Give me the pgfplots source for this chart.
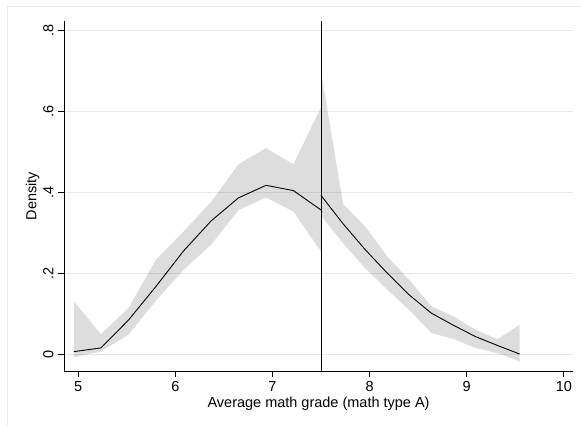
\documentclass[border=0pt]{standalone}
\usepackage{pgfplots}
\pgfplotsset{compat=1.18}
\usepackage{pgfplotstable}
\usepgfplotslibrary{fillbetween}
\usepackage{fontspec}
\setmainfont{Liberation Sans}
\definecolor{gridc}{RGB}{232,232,232}
\definecolor{framec}{RGB}{236,236,236}

\pgfplotstableread{
x     y      lo      hi
4.956 0.006 -0.008  0.130
5.233 0.015  0.006  0.049
5.518 0.084  0.048  0.114
5.800 0.167  0.132  0.233
6.085 0.255  0.208  0.303
6.368 0.329  0.270  0.376
6.650 0.386  0.356  0.469
6.933 0.417  0.387  0.509
7.216 0.404  0.352  0.469
7.500 0.356  0.253  0.610
}\leftside

\pgfplotstableread{
x     y      lo      hi
7.500 0.392  0.342  0.698
7.727 0.322  0.274  0.371
7.955 0.258  0.212  0.315
8.182 0.200  0.159  0.241
8.409 0.146  0.109  0.183
8.636 0.101  0.052  0.118
8.864 0.071  0.037  0.093
9.091 0.043  0.015  0.060
9.318 0.021  0.002  0.037
9.545 0.000 -0.018  0.072
}\rightside

\begin{document}
\fontsize{14.5bp}{17bp}\selectfont
\begin{tikzpicture}
\begin{axis}[
  name=ax,
  scale only axis,
  width=509bp, height=351bp,
  xmin=4.856, xmax=10.093,
  ymin=-0.043, ymax=0.824,
  axis lines=left,
  axis line style={-, black, line width=0.9bp},
  xtick={5,6,7,8,9,10},
  ytick={0,0.2,0.4,0.6,0.8},
  xticklabel={\pgfmathprintnumber[fixed,precision=0,assume math mode=true]{\tick}},
  yticklabel={\pgfmathprintnumber[fixed,precision=1,skip 0.,assume math mode=true]{\tick}},
  tick align=outside,
  major tick length=6bp,
  tick style={black, line width=0.8bp},
  ymajorgrids,
  grid style={gridc, line width=0.9bp},
  xticklabel style={font=\fontsize{14.5bp}{17bp}\selectfont, inner sep=0pt, anchor=base, yshift=-14bp},
  yticklabel style={font=\fontsize{14.5bp}{17bp}\selectfont, inner sep=0pt, anchor=base, xshift=-5bp, rotate=90},
  xlabel={Average math grade (math type A)},
  ylabel={Density},
  xlabel style={font=\fontsize{14.5bp}{17bp}\selectfont, inner sep=0pt, at={([yshift=-36.6bp]axis description cs:0.5,0)}, anchor=base},
  ylabel style={font=\fontsize{14.5bp}{17bp}\selectfont, inner sep=0pt, at={([xshift=-27.8bp]axis description cs:0,0.5)}, anchor=base, rotate=0},
  clip=false,
]
\addplot[name path=lhi, draw=none, forget plot] table[x=x, y=hi]{\leftside};
\addplot[name path=llo, draw=none, forget plot] table[x=x, y=lo]{\leftside};
\addplot[black, fill opacity=0.135, draw=none, forget plot] fill between[of=lhi and llo];
\addplot[name path=rhi, draw=none, forget plot] table[x=x, y=hi]{\rightside};
\addplot[name path=rlo, draw=none, forget plot] table[x=x, y=lo]{\rightside};
\addplot[black, fill opacity=0.135, draw=none, forget plot] fill between[of=rhi and rlo];
\addplot[black, line width=0.9bp] table[x=x, y=y]{\leftside};
\addplot[black, line width=0.9bp] table[x=x, y=y]{\rightside};
\addplot[black, line width=1bp] coordinates {(7.5,-0.043) (7.5,0.824)};
\end{axis}
\draw[framec, line width=0.9bp] ([xshift=-57bp, yshift=-54.3bp]ax.south west) -- ([xshift=-57bp, yshift=365.7bp]ax.south west) -- ([xshift=516.7bp, yshift=365.7bp]ax.south west);
\useasboundingbox ([xshift=-64.3bp, yshift=-54.3bp]ax.south west) rectangle ([xshift=516.7bp, yshift=371.7bp]ax.south west);
\end{tikzpicture}
\end{document}
